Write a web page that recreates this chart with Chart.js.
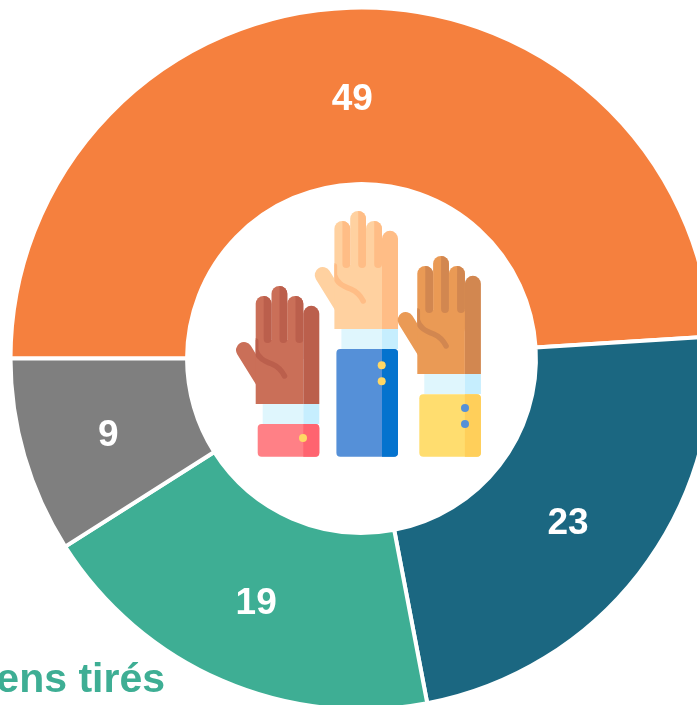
<!DOCTYPE html>
<html lang="fr">
<head>
<meta charset="utf-8">
<title>Liens tirés</title>
<script src="https://cdn.jsdelivr.net/npm/chart.js@4"></script>
<style>
    html, body { margin: 0; padding: 0; background: #fff; width: 697px; height: 705px; overflow: hidden; }
    #wrap { position: relative; width: 697px; height: 705px; overflow: hidden; }
    #chart { position: absolute; left: 0; top: 0; }
    #icon { position: absolute; left: 0; top: 0; }
    #caption {
        position: absolute; right: 532px; top: 655px; white-space: nowrap;
        font: bold 41px "Liberation Sans", Arial, sans-serif; color: #3EAE94; line-height: 46px;
    }
</style>
</head>
<body>
<div id="wrap">
    <canvas id="chart" width="723" height="717"></canvas>
    <svg id="icon" width="697" height="705" viewBox="0 0 697 705"></svg>
    <div id="caption">ens tirés</div>
</div>
<script>
// Data
const categories = ["Orange", "Bleu", "Vert", "Gris"];
const seriesValues = [49, 23, 19, 9];
const sliceColors = ["#F5803E", "#1B6781", "#3EAE94", "#7F7F7F"];

// -----------------------------
// Value labels in the middle of each slice
// -----------------------------
const sliceLabels = {
    id: "sliceLabels",
    afterDatasetsDraw(chart) {
        const ctx = chart.ctx;
        ctx.save();
        ctx.fillStyle = "#fff";
        ctx.font = 'bold 37px "Liberation Sans", Arial, sans-serif';
        ctx.textAlign = "center";
        ctx.textBaseline = "middle";
        chart.getDatasetMeta(0).data.forEach((arc, i) => {
            const p = arc.tooltipPosition();
            ctx.fillText(String(seriesValues[i]), p.x - 1, p.y + 4);
        });
        ctx.restore();
    }
};

new Chart(document.getElementById("chart"), {
    type: "doughnut",
    data: {
        labels: categories,
        datasets: [{
            data: seriesValues,
            backgroundColor: sliceColors,
            borderColor: "#fff",
            borderWidth: 4
        }]
    },
    options: {
        responsive: false,
        animation: false,
        rotation: -90,
        radius: 351,
        cutout: "49.7%",
        layout: { padding: 0 },
        plugins: { legend: { display: false }, tooltip: { enabled: false } }
    },
    plugins: [sliceLabels]
});

// -----------------------------
// Raised hands icon in the hole
// -----------------------------
function handSvg(dx, dy, cuffTop, c) {
    const half = (x, top, bot) =>
        `M${x} ${top}A7.8 7.8 0 0 1 ${x + 7.8} ${top + 7.8}V${bot - 3.9}A3.9 3.9 0 0 1 ${x} ${bot - 3.9}Z`;
    const btns = c.buttons.map(b =>
        `<circle cx="${b[0]}" cy="${b[1]}" r="4" fill="${c.button}"/>`).join("");
    return `
    <g transform="translate(${dx} ${dy})">
        <path d="M244 350L270 392" stroke="${c.skin}" stroke-width="16" stroke-linecap="round"/>
        <rect x="255.7" y="296" width="15.8" height="70" rx="7.8" fill="${c.skin}"/>
        <rect x="271.5" y="286" width="15.8" height="70" rx="7.8" fill="${c.skin}"/>
        <rect x="287.3" y="296" width="16" height="70" rx="7.8" fill="${c.skin}"/>
        <rect x="255.7" y="340" width="47.6" height="64" fill="${c.skin}"/>
        <path d="${half(263.7, 296, 343)}" fill="${c.shade}"/>
        <path d="${half(279.5, 286, 343)}" fill="${c.shade}"/>
        <path d="${half(295.5, 296, 343)}" fill="${c.shade}"/>
        <path d="M303.3 313.8A8 8 0 0 1 319.3 313.8V404H303.3Z" fill="${c.shade}"/>
        <path d="M255.7 341V350C258 358 264 361 272 364C279 367 282 371 284.5 376" fill="none" stroke="${c.shade}" stroke-width="5.5" stroke-linecap="round" clip-path="url(#palmClip)"/>
        <rect x="262.7" y="404" width="40.6" height="20" fill="#DFF6FD"/>
        <rect x="303.3" y="404" width="16" height="20" fill="#C6EEFE"/>
    </g>
    <rect x="${257.7 + dx}" y="${cuffTop}" width="61.6" height="${456.7 - cuffTop}" rx="4" fill="${c.cuff}"/>
    <path d="M${303.3 + dx} ${cuffTop}H${315.3 + dx}A4 4 0 0 1 ${319.3 + dx} ${cuffTop + 4}V452.7A4 4 0 0 1 ${315.3 + dx} 456.7H${303.3 + dx}Z" fill="${c.cuffShade}"/>
    ${btns}`;
}

document.getElementById("icon").innerHTML =
    `<defs><clipPath id="palmClip"><rect x="255.7" y="330" width="64" height="74"/></clipPath></defs>` +
    handSvg(0, 0, 424, {
        skin: "#CA6F58", shade: "#BB5F4C", cuff: "#FF8086", cuffShade: "#FF6470",
        button: "#FFD764", buttons: [[303, 438]]
    }) +
    handSvg(78.7, -75, 349, {
        skin: "#FFD1A0", shade: "#FFBD86", cuff: "#5590D8", cuffShade: "#0573CE",
        button: "#FFD764", buttons: [[381.7, 365.3], [381.7, 381.3]]
    }) +
    handSvg(161.6, -30, 394.3, {
        skin: "#EA9A55", shade: "#D28750", cuff: "#FFDD6F", cuffShade: "#FFCF5A",
        button: "#5590D8", buttons: [[465, 408], [465, 424]]
    });
</script>
</body>
</html>
